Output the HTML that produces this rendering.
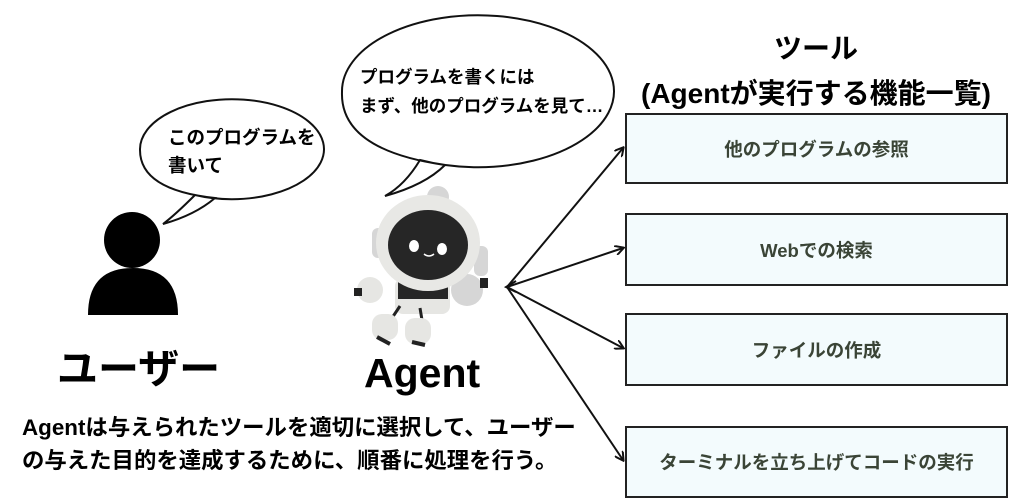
<!DOCTYPE html>
<html><head><meta charset="utf-8"><style>
body{margin:0;width:1024px;height:499px;background:#fff;position:relative;overflow:hidden;font-family:"Liberation Sans","Noto Sans CJK JP",sans-serif;font-weight:700;color:#000}
.t{position:absolute;white-space:nowrap}
.box{position:absolute;left:625px;width:379px;border:2px solid #222;background:#f3fbfd;display:flex;align-items:center;justify-content:center;font-size:18.5px;color:#3a4436}
</style></head><body>
<svg width="1024" height="499" style="position:absolute;left:0;top:0">
<defs><marker id="a" markerWidth="10" markerHeight="10" refX="8" refY="5" orient="auto" markerUnits="userSpaceOnUse"><path d="M0,0 L9,5 L0,10" fill="none" stroke="#111" stroke-width="2"/></marker></defs>
<path d="M195,195 Q175,215 163,224 Q195,215 215,198 Q140,190 140,150 A92,50 0 1 1 195,195 Z" fill="#fff" stroke="#111" stroke-width="2"/>
<path d="M420,160 Q405,185 385,196 Q425,185 445,165 Q340,150 342,92 A136,76 0 1 1 420,160 Z" fill="#fff" stroke="#111" stroke-width="2"/>
<circle cx="132" cy="240" r="28" fill="#000"/>
<path d="M88,315 Q88,268 133,268 Q178,268 178,315 Z" fill="#000"/>
<g stroke="#111" stroke-width="2" fill="none">
<path d="M516,281 L506,287 L516,292"/>
<line x1="507" y1="287" x2="623" y2="148" marker-end="url(#a)"/>
<line x1="507" y1="287" x2="623" y2="248" marker-end="url(#a)"/>
<line x1="507" y1="287" x2="623" y2="348" marker-end="url(#a)"/>
<line x1="507" y1="287" x2="623" y2="460" marker-end="url(#a)"/>
</g>
<g>
<circle cx="438" cy="197" r="11" fill="#d6d6d6"/>
<rect x="372" y="228" width="18" height="30" rx="6" fill="#d6d6d6"/>
<rect x="474" y="246" width="14" height="30" rx="6" fill="#d6d6d6"/>
<circle cx="467" cy="290" r="16" fill="#d6d6d6"/>
<rect x="395" y="278" width="55" height="36" rx="8" fill="#e6e6e3"/>
<rect x="398" y="279" width="50" height="20" fill="#262626"/>
<line x1="400" y1="306" x2="392" y2="318" stroke="#222" stroke-width="3"/>
<line x1="420" y1="308" x2="422" y2="320" stroke="#222" stroke-width="3"/>
<rect x="372" y="314" width="26" height="26" rx="10" fill="#e6e6e3"/>
<rect x="405" y="318" width="26" height="26" rx="10" fill="#e6e6e3"/>
<line x1="377" y1="337" x2="390" y2="344" stroke="#222" stroke-width="4"/>
<line x1="412" y1="342" x2="425" y2="345" stroke="#222" stroke-width="4"/>
<circle cx="370" cy="290" r="13" fill="#e6e6e3"/>
<rect x="354" y="288" width="8" height="8" fill="#222"/>
<rect x="480" y="278" width="8" height="10" fill="#222"/>
<ellipse cx="428" cy="243" rx="52" ry="48" fill="#e8e8e5"/>
<ellipse cx="428" cy="245" rx="40" ry="35" fill="#262626"/>
<ellipse cx="414" cy="246" rx="5" ry="6" fill="#fff"/>
<ellipse cx="442" cy="249" rx="5" ry="6" fill="#fff"/>
<path d="M424,254 Q429,258 434,254" stroke="#fff" stroke-width="1.5" fill="none"/>
</g>
</svg>
<div class="t" style="left:168px;top:124px;font-size:18.5px;line-height:28px">このプログラムを<br>書いて</div>
<div class="t" style="left:360px;top:63px;font-size:17.5px;line-height:29px">プログラムを書くには<br>まず、他のプログラムを見て…</div>
<div class="t" style="left:57px;top:335px;font-size:41px">ユーザー</div>
<div class="t" style="left:364px;top:350px;font-size:41px">Agent</div>
<div class="t" style="left:22px;top:411px;font-size:22.4px;line-height:33px">Agentは与えられたツールを適切に選択して、ユーザー<br>の与えた目的を達成するために、順番に処理を行う。</div>
<div class="t" style="left:636px;top:26px;width:360px;text-align:center;font-size:28px;line-height:45px">ツール<br>(Agentが実行する機能一覧)</div>
<div class="box" style="top:113px;height:67px">他のプログラムの参照</div>
<div class="box" style="top:213px;height:69px">Webでの検索</div>
<div class="box" style="top:313px;height:69px">ファイルの作成</div>
<div class="box" style="top:426px;height:68px">ターミナルを立ち上げてコードの実行</div>
</body></html>
